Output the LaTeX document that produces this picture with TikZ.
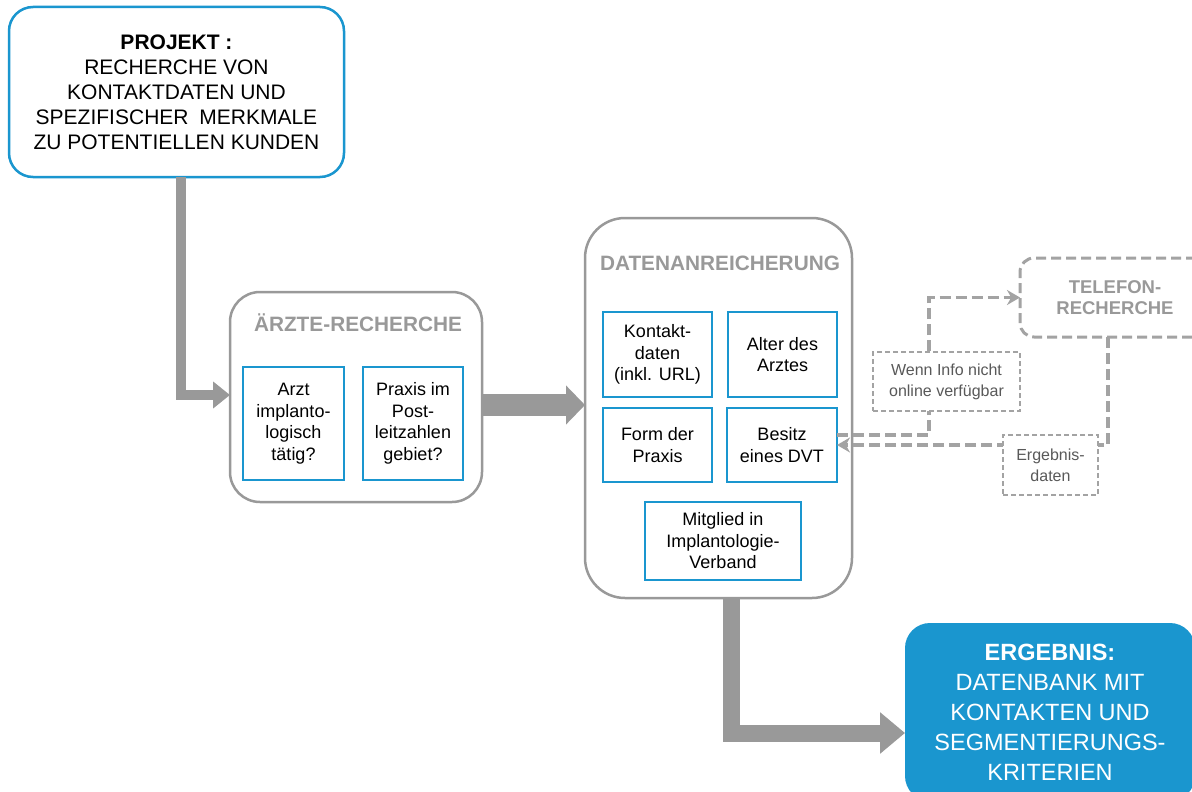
\documentclass[tikz,border=0pt]{standalone}
\usepackage{fontspec}
\setmainfont{Liberation Sans}
\usetikzlibrary{arrows.meta,calc}
\definecolor{cblue}{HTML}{1A96CF}
\definecolor{cgray}{HTML}{999999}
\definecolor{dgray}{HTML}{A3A3A3}
\definecolor{tgray}{HTML}{595959}
\begin{document}
\begin{tikzpicture}[x=1pt,y=-1pt,
  every node/.style={inner sep=0pt, outer sep=0pt},
  projbox/.style={draw=cblue, line width=2.5pt, rounded corners=24pt, fill=white,
    minimum width=335pt, minimum height=170pt, align=center, font=\fontsize{21}{25}\selectfont},
  groupbox/.style={draw=cgray, line width=2.5pt, rounded corners=#1},
  grouptitle/.style={text=cgray, font=\bfseries\fontsize{20.8}{24}\selectfont},
  itembox/.style={draw=cblue, line width=2.5pt, align=center, font=\fontsize{18}{21.5}\selectfont},
  notebox/.style={draw=dgray, line width=1.5pt, dash pattern=on 5pt off 3pt, fill=white,
    align=center, text=tgray, font=\fontsize{16}{21}\selectfont},
  fatarrow/.style={draw=cgray, line join=miter},
  dasharrow/.style={draw=dgray, line width=3.5pt, dash pattern=on 11pt off 5pt,
    -{Stealth[length=13pt,width=15pt]}}
]
\fill[white] (0,0) rectangle (1192,792);
\useasboundingbox (0,0) rectangle (1192,792);

% project box
\node[projbox] (proj) at (176.5,92) {\textbf{PROJEKT :}\\RECHERCHE VON\\KONTAKTDATEN UND\\SPEZIFISCHER\hspace{5pt} MERKMALE\\ZU POTENTIELLEN KUNDEN};

% Aerzte-Recherche
\node[groupbox=30pt, minimum width=252pt, minimum height=210pt] (arzte) at (356,397) {};
\node[grouptitle] (arzteT) at (358,323) {ÄRZTE-RECHERCHE};
\node[itembox, minimum width=101pt, minimum height=113pt] (a1) at (293.5,423.5) {Arzt\\implanto-\\logisch\\tätig?};
\node[itembox, minimum width=100pt, minimum height=113pt] (a2) at (413,423.5) {Praxis im\\Post-\\leitzahlen\\gebiet?};

% Datenanreicherung
\node[groupbox=40pt, minimum width=267pt, minimum height=380pt] (daten) at (718.5,408) {};
\node[grouptitle] (datenT) at (720,263) {DATENANREICHERUNG};
\node[itembox, minimum width=109pt, minimum height=85pt] (k1) at (657.5,354.5) {Kontakt-\\daten\\(inkl. URL)};
\node[itembox, minimum width=109pt, minimum height=85pt] (k2) at (782.5,354.5) {Alter des\\Arztes};
\node[itembox, minimum width=109pt, minimum height=74pt] (k3) at (657.5,445) {Form der\\Praxis};
\node[itembox, minimum width=110pt, minimum height=74pt] (k4) at (782,445) {Besitz\\eines DVT};
\node[itembox, minimum width=156pt, minimum height=78pt] (k5) at (723,541) {Mitglied in\\Implantologie-\\Verband};

% Telefon-Recherche
\node[draw=dgray, line width=3pt, dash pattern=on 10pt off 5pt, rounded corners=14pt,
  minimum width=190pt, minimum height=79pt, align=center, text=cgray,
  font=\bfseries\fontsize{18.5}{21}\selectfont] (tel) at (1115,297.5) {TELEFON-\\RECHERCHE};

% Ergebnis
\node[fill=cblue, rounded corners=25pt, minimum width=290pt, minimum height=178pt,
  align=center, text=white, font=\fontsize{23.5}{30}\selectfont] (res) at (1050,712)
  {\textbf{ERGEBNIS:}\\DATENBANK MIT\\KONTAKTEN UND\\SEGMENTIERUNGS-\\KRITERIEN};

% fat arrows
\draw[fatarrow, line width=10pt, -{Triangle[width=26pt,length=17pt]}]
  ([xshift=4pt]proj.south) |- ([yshift=2pt]arzte.west);
\draw[fatarrow, line width=22pt, -{Triangle[width=38pt,length=19pt]}]
  ([yshift=-8pt]arzte.east) coordinate (s2) -- (s2 -| daten.west);
\draw[fatarrow, line width=17pt, -{Triangle[width=40pt,length=25pt]}]
  ([xshift=12.5pt]daten.south) |- ([yshift=-21pt]res.west);

% dashed connectors
\coordinate (c2) at (929,297.5);
\draw[dasharrow] ([yshift=10pt]k4.east) -| (c2) -- (tel.west);
\draw[dasharrow] ([xshift=-7pt]tel.south) |- (k4.east);

% note boxes (on top of dashed lines)
\node[notebox, minimum width=147pt, minimum height=59pt] (wenn) at (946.5,381.5) {Wenn Info nicht\\online verfügbar};
\node[notebox, minimum width=95pt, minimum height=60pt] (erg) at (1050.5,465) {Ergebnis-\\daten};
\end{tikzpicture}
\end{document}
